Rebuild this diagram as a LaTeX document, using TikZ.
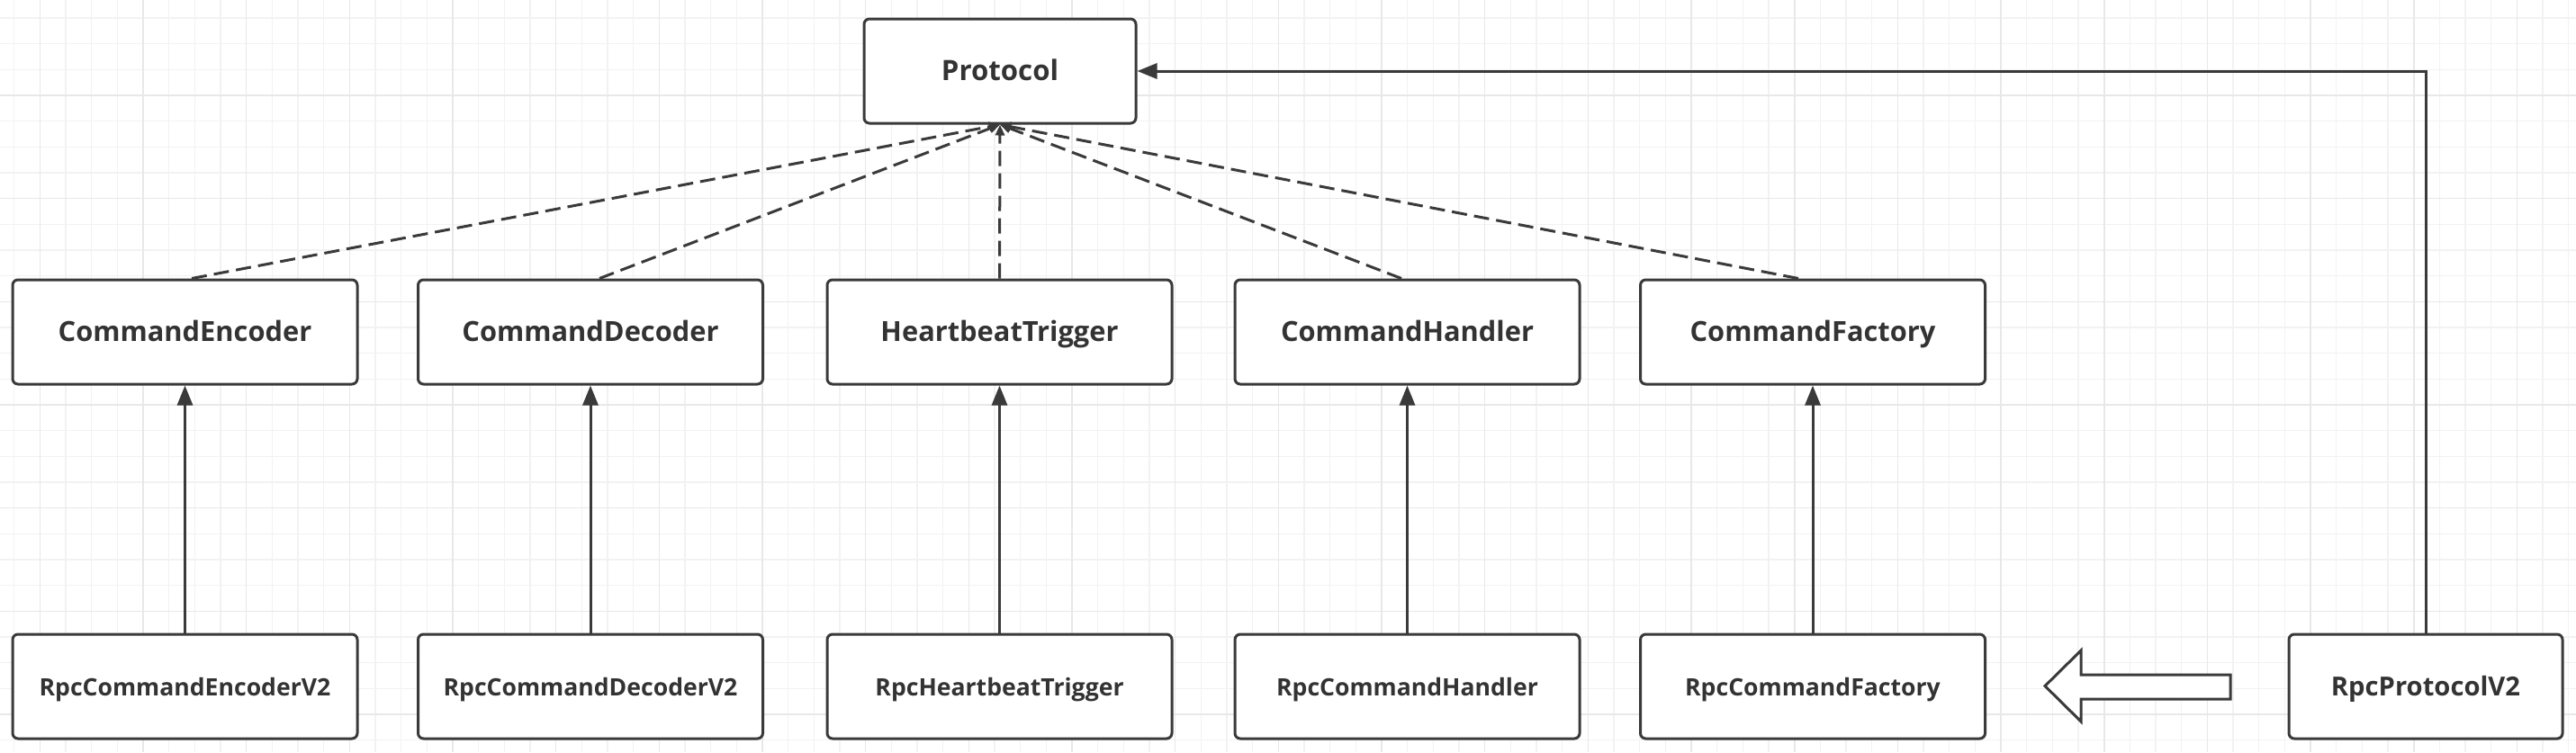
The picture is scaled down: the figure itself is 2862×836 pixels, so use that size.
\documentclass[tikz,border=0pt]{standalone}
\usepackage{fontspec}
\setmainfont{Open Sans}
\usetikzlibrary{arrows.meta}
\definecolor{ink}{HTML}{333333}
\definecolor{edge}{HTML}{3A3A3A}
\definecolor{gminor}{HTML}{F2F2F2}
\definecolor{gmajor}{HTML}{E8E8E8}
\tikzset{
  gridminor/.style={draw=gminor, line width=0.6pt},
  gridmajor/.style={draw=gmajor, line width=0.8pt},
  umlbox/.style={draw=edge, fill=white, line width=1.5pt, rounded corners=3pt,
    inner sep=0pt, minimum height=58pt, text=ink, text height=2.05ex, text depth=0.15ex},
  topbox/.style={umlbox, minimum width=191.5pt, font=\fontsize{15.4}{18}\selectfont\bfseries},
  botbox/.style={umlbox, minimum width=191.5pt, font=\fontsize{13.3}{16}\selectfont\bfseries},
  solidarrow/.style={draw=edge, line width=1.5pt, -{Triangle[length=11pt,width=8.5pt]}},
  dasharrow/.style={draw=edge, line width=1.5pt, dash pattern=on 8.5pt off 4pt,
    -{Triangle[length=6pt,width=5pt]}},
  hollowarrow/.style={draw=edge, fill=white, line width=1.5pt, line join=miter}
}
\begin{document}
\begin{tikzpicture}[x=0.5pt, y=-0.5pt]
\useasboundingbox (0,0) rectangle (2862,836);
\fill[white] (0,0) rectangle (2862,836);
% grid
\foreach \i in {0,...,99} {\draw[gridminor] ({15.67+28.667*\i},0) -- ({15.67+28.667*\i},836);}
\foreach \i in {0,...,28} {\draw[gridminor] (0,{20+28.667*\i}) -- (2862,{20+28.667*\i});}
\foreach \i in {0,...,24} {\draw[gridmajor] ({44.33+114.667*\i},0) -- ({44.33+114.667*\i},836);}
\foreach \i in {0,...,6} {\draw[gridmajor] (0,{106+114.667*\i}) -- (2862,{106+114.667*\i});}

% nodes
\node[umlbox, minimum width=151pt, font=\fontsize{15.6}{18}\selectfont\bfseries] (proto) at (1111,79) {Protocol};
\node[topbox] (enc) at (205.5,369) {CommandEncoder};
\node[topbox] (dec) at (656,369) {CommandDecoder};
\node[topbox] (hb) at (1110.5,369) {HeartbeatTrigger};
\node[topbox] (hdl) at (1563.5,369) {CommandHandler};
\node[topbox] (fac) at (2014,369) {CommandFactory};
\node[botbox] (renc) at (205.5,763) {RpcCommandEncoderV2};
\node[botbox] (rdec) at (656,763) {RpcCommandDecoderV2};
\node[botbox] (rhb) at (1110.5,763) {RpcHeartbeatTrigger};
\node[botbox] (rhdl) at (1563.5,763) {RpcCommandHandler};
\node[botbox] (rfac) at (2014,763) {RpcCommandFactory};
\node[umlbox, minimum width=152pt, font=\fontsize{14.6}{17}\selectfont\bfseries] (rpv2) at (2695,763) {RpcProtocolV2};

% dashed realization lines
\draw[dasharrow] ([xshift=3.75pt]enc.north) -- (proto.south);
\draw[dasharrow] ([xshift=5pt]dec.north) -- (proto.south);
\draw[dasharrow] (hb.north) -- (proto.south);
\draw[dasharrow] ([xshift=-3.25pt]hdl.north) -- (proto.south);
\draw[dasharrow] ([xshift=-8pt]fac.north) -- (proto.south);

% solid inheritance arrows
\draw[solidarrow] (renc) -- (enc);
\draw[solidarrow] (rdec) -- (dec);
\draw[solidarrow] (rhb) -- (hb);
\draw[solidarrow] (rhdl) -- (hdl);
\draw[solidarrow] (rfac) -- (fac);
\draw[solidarrow] (rpv2.north) |- (proto.east);

% hollow block arrow
\draw[hollowarrow] (2478,750) -- (2312,750) -- (2312,723) -- (2272,762.5)
  -- (2312,802) -- (2312,777) -- (2478,777) -- cycle;
\end{tikzpicture}
\end{document}
